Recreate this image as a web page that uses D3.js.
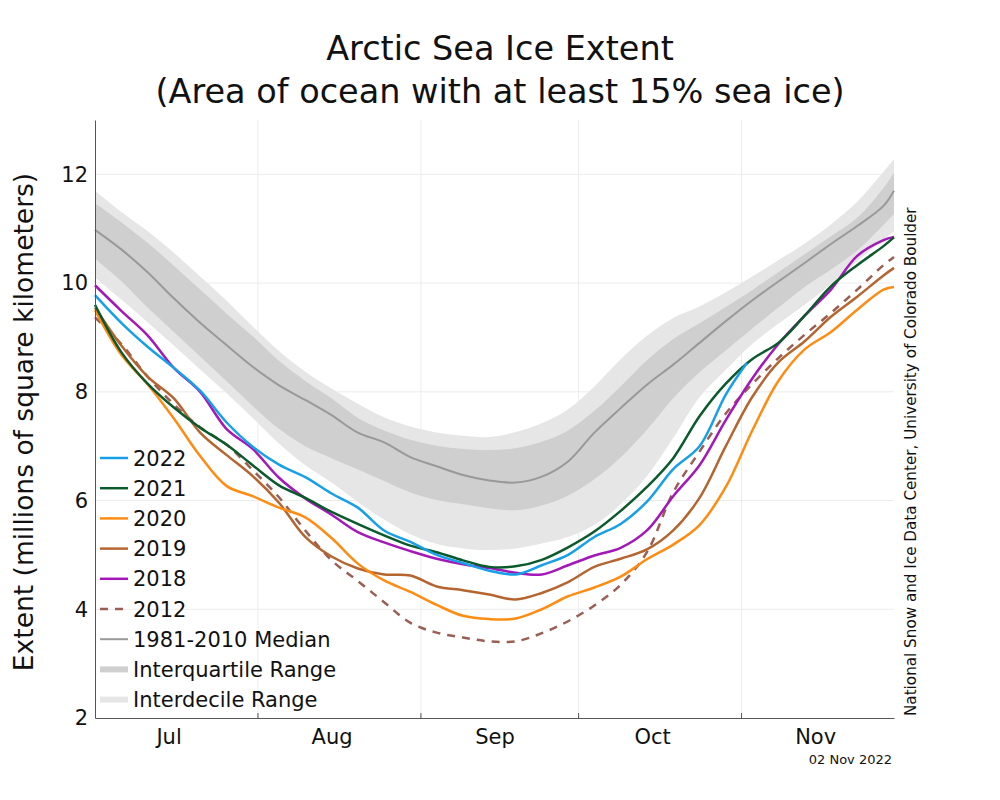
<!DOCTYPE html>
<html>
<head>
<meta charset="utf-8">
<script src="https://cdn.jsdelivr.net/npm/d3@7"></script>
<style>
  html, body { margin: 0; padding: 0; background: #fff; }
  svg { display: block; font-family: "DejaVu Sans", sans-serif; }
</style>
</head>
<body>
<svg id="chart" width="1000" height="800"></svg>
<script>
// ---------------- data ----------------
const dates = ["2022-07-01","2022-07-06","2022-07-11","2022-07-16","2022-07-21","2022-07-26","2022-07-31",
  "2022-08-05","2022-08-10","2022-08-15","2022-08-20","2022-08-25","2022-08-30",
  "2022-09-04","2022-09-09","2022-09-14","2022-09-19","2022-09-24","2022-09-29",
  "2022-10-04","2022-10-09","2022-10-14","2022-10-19","2022-10-24","2022-10-29",
  "2022-11-03","2022-11-08","2022-11-13","2022-11-18","2022-11-23","2022-11-28","2022-11-30"];
const dates2022 = dates.slice(0, 25).concat(["2022-11-02"]);

const decileHigh   = [11.70,11.31,10.96,10.56,10.12,9.68,9.20,8.75,8.37,8.06,7.78,7.53,7.36,7.25,7.19,7.17,7.26,7.42,7.68,8.10,8.60,9.03,9.36,9.57,9.83,10.12,10.42,10.73,11.08,11.50,12.05,12.28];
const quartileHigh = [11.47,11.12,10.74,10.32,9.88,9.44,9.02,8.57,8.20,7.88,7.52,7.29,7.12,7.01,6.95,6.93,6.96,7.08,7.29,7.65,8.10,8.58,8.97,9.26,9.56,9.87,10.20,10.53,10.86,11.20,11.75,12.03];
const median       = [10.98,10.62,10.20,9.72,9.27,8.86,8.46,8.12,7.85,7.57,7.25,7.07,6.80,6.63,6.47,6.37,6.33,6.44,6.72,7.25,7.70,8.13,8.50,8.90,9.30,9.68,10.03,10.37,10.72,11.05,11.42,11.70];
const quartileLow  = [10.45,10.04,9.55,9.10,8.65,8.20,7.74,7.32,7.00,6.78,6.57,6.36,6.15,6.01,5.93,5.86,5.82,5.91,6.09,6.39,6.79,7.30,7.88,8.36,8.76,9.16,9.55,9.93,10.25,10.60,11.07,11.27];
const decileLow    = [10.10,9.70,9.28,8.85,8.41,7.98,7.52,7.05,6.65,6.33,5.97,5.65,5.38,5.20,5.12,5.09,5.12,5.21,5.33,5.55,5.93,6.45,7.15,7.90,8.40,8.88,9.25,9.60,9.98,10.40,10.80,10.95];

const y2022 = [9.78,9.27,8.83,8.44,8.02,7.44,6.99,6.66,6.43,6.13,5.87,5.45,5.24,5.00,4.85,4.71,4.64,4.81,5.00,5.33,5.57,5.98,6.58,7.00,7.95,8.53];
const y2021 = [9.60,8.73,8.15,7.71,7.34,7.03,6.65,6.28,6.05,5.79,5.57,5.36,5.17,5.05,4.90,4.78,4.79,4.91,5.14,5.43,5.81,6.25,6.78,7.55,8.15,8.60,8.90,9.40,9.94,10.33,10.68,10.84];
const y2020 = [9.50,8.68,8.14,7.51,6.82,6.27,6.08,5.87,5.69,5.31,4.84,4.53,4.32,4.08,3.88,3.82,3.83,4.00,4.24,4.40,4.60,4.92,5.19,5.55,6.25,7.28,8.20,8.78,9.10,9.51,9.88,9.93];
const y2019 = [9.55,8.85,8.28,7.88,7.25,6.84,6.45,5.96,5.33,4.97,4.75,4.64,4.62,4.42,4.35,4.27,4.18,4.30,4.50,4.78,4.93,5.10,5.45,6.05,7.00,7.90,8.54,8.93,9.38,9.75,10.14,10.28];
const y2018 = [9.96,9.49,9.04,8.44,8.00,7.32,6.95,6.42,6.04,5.74,5.42,5.23,5.07,4.93,4.83,4.76,4.67,4.64,4.81,4.99,5.13,5.45,6.08,6.65,7.48,8.24,8.88,9.40,9.88,10.50,10.79,10.85];
const y2012 = [9.37,8.88,8.28,7.77,7.35,7.03,6.56,6.06,5.45,4.90,4.52,4.13,3.75,3.57,3.48,3.41,3.41,3.56,3.78,4.07,4.45,5.05,6.15,6.90,7.60,8.14,8.62,9.05,9.45,9.88,10.33,10.48];

const yTicks = [2, 4, 6, 8, 10, 12];
const monthStarts = ["2022-08-01","2022-09-01","2022-10-01","2022-11-01"];
const monthLabelDates = ["2022-07-15","2022-08-15","2022-09-15","2022-10-15","2022-11-15"];
const legendLabels = ["2022","2021","2020","2019","2018","2012","1981-2010 Median","Interquartile Range","Interdecile Range"];

// ---------------- drawing ----------------
const parse = d3.utcParse("%Y-%m-%d");
const svg = d3.select("#chart");
const plotL = 95, plotR = 894, plotT = 120, plotB = 718;

const x = d3.scaleUtc().domain([parse("2022-07-01"), parse("2022-11-30")]).range([plotL, plotR]);
const y = d3.scaleLinear().domain([2, 13]).range([plotB, plotT]);

// grid
const grid = svg.append("g");
grid.selectAll(".hg").data(yTicks.filter(v => v > 2)).join("line")
  .attr("x1", plotL).attr("x2", plotR)
  .attr("y1", d => y(d)).attr("y2", d => y(d))
  .attr("stroke", "#ececec").attr("stroke-width", 1);
grid.selectAll(".vg").data(monthStarts).join("line")
  .attr("x1", d => x(parse(d))).attr("x2", d => x(parse(d)))
  .attr("y1", plotT).attr("y2", plotB)
  .attr("stroke", "#ececec").attr("stroke-width", 1);

const pts = (ds, vs) => ds.map((d, i) => ({ t: parse(d), v: vs[i] }));
const curve = d3.curveCatmullRom.alpha(0.5);

const bandArea = () => d3.area().curve(curve)
  .x(d => x(d.t)).y0(d => y(d.lo)).y1(d => y(d.hi));
const bandData = (lo, hi) => dates.map((d, i) => ({ t: parse(d), lo: lo[i], hi: hi[i] }));

svg.append("path").datum(bandData(decileLow, decileHigh))
  .attr("d", bandArea()).attr("fill", "#e6e6e6");
svg.append("path").datum(bandData(quartileLow, quartileHigh))
  .attr("d", bandArea()).attr("fill", "#cfcfcf");

const line = d3.line().curve(curve).x(d => x(d.t)).y(d => y(d.v));

svg.append("path").datum(pts(dates, median))
  .attr("d", line).attr("fill", "none").attr("stroke", "#999999").attr("stroke-width", 2);

const series = [
  { name: "2012", ds: dates, vs: y2012, color: "#9b5e55", dash: "8,7" },
  { name: "2018", ds: dates, vs: y2018, color: "#a318b8", dash: null },
  { name: "2019", ds: dates, vs: y2019, color: "#b5652f", dash: null },
  { name: "2020", ds: dates, vs: y2020, color: "#ff8c12", dash: null },
  { name: "2021", ds: dates, vs: y2021, color: "#0b5a2c", dash: null },
  { name: "2022", ds: dates2022, vs: y2022, color: "#17a0e8", dash: null }
];
series.forEach(s => {
  svg.append("path").datum(pts(s.ds, s.vs))
    .attr("d", line).attr("fill", "none")
    .attr("stroke", s.color).attr("stroke-width", 2.5)
    .attr("stroke-dasharray", s.dash);
});

// axes
const yAxis = svg.append("g").attr("transform", `translate(${plotL},0)`)
  .call(d3.axisLeft(y).tickValues(yTicks).tickSize(0).tickPadding(7).tickFormat(d3.format("d")));
yAxis.select(".domain").attr("stroke", "#555");
yAxis.selectAll("text").attr("font-size", 21).attr("fill", "#111").attr("font-family", "DejaVu Sans");

const xAxis = svg.append("g").attr("transform", `translate(0,${plotB})`)
  .call(d3.axisBottom(x).tickValues(monthLabelDates.map(parse)).tickSize(0).tickSizeOuter(0).tickPadding(11)
    .tickFormat(d3.utcFormat("%b")));
xAxis.select(".domain").attr("stroke", "#555");
xAxis.selectAll("text").attr("font-size", 21).attr("fill", "#111").attr("font-family", "DejaVu Sans");
svg.append("g").selectAll("line").data(monthStarts).join("line")
  .attr("x1", d => x(parse(d))).attr("x2", d => x(parse(d)))
  .attr("y1", plotB).attr("y2", plotB - 5)
  .attr("stroke", "#555");

// legend
const legendStyles = [
  { color: "#17a0e8", w: 2.5, dash: null },
  { color: "#0b5a2c", w: 2.5, dash: null },
  { color: "#ff8c12", w: 2.5, dash: null },
  { color: "#b5652f", w: 2.5, dash: null },
  { color: "#a318b8", w: 2.5, dash: null },
  { color: "#9b5e55", w: 2.5, dash: "8,7" },
  { color: "#999999", w: 2, dash: null },
  { color: "#cfcfcf", w: 6, dash: null },
  { color: "#e6e6e6", w: 6, dash: null }
];
const lg = svg.append("g");
legendLabels.forEach((lab, i) => {
  const cy = 458 + i * 30.2;
  const st = legendStyles[i];
  lg.append("line").attr("x1", 100).attr("x2", 128).attr("y1", cy).attr("y2", cy)
    .attr("stroke", st.color).attr("stroke-width", st.w).attr("stroke-dasharray", st.dash);
  lg.append("text").attr("x", 133).attr("y", cy + 7.5).attr("font-size", 21).attr("fill", "#111")
    .text(lab);
});

// titles
svg.append("text").attr("x", 500).attr("y", 60).attr("text-anchor", "middle")
  .attr("font-size", 33.5).attr("fill", "#111").text("Arctic Sea Ice Extent");
svg.append("text").attr("x", 500).attr("y", 103).attr("text-anchor", "middle")
  .attr("font-size", 33.5).attr("fill", "#111").text("(Area of ocean with at least 15% sea ice)");

svg.append("text").attr("transform", "translate(33,422) rotate(-90)").attr("text-anchor", "middle")
  .attr("font-size", 26.5).attr("fill", "#111").text("Extent (millions of square kilometers)");

svg.append("text").attr("transform", "translate(916,716) rotate(-90)").attr("text-anchor", "start")
  .attr("font-size", 15.2).attr("fill", "#111")
  .text("National Snow and Ice Data Center, University of Colorado Boulder");

svg.append("text").attr("x", 892).attr("y", 764).attr("text-anchor", "end")
  .attr("font-size", 13).attr("fill", "#111").text("02 Nov 2022");
</script>
</body>
</html>
